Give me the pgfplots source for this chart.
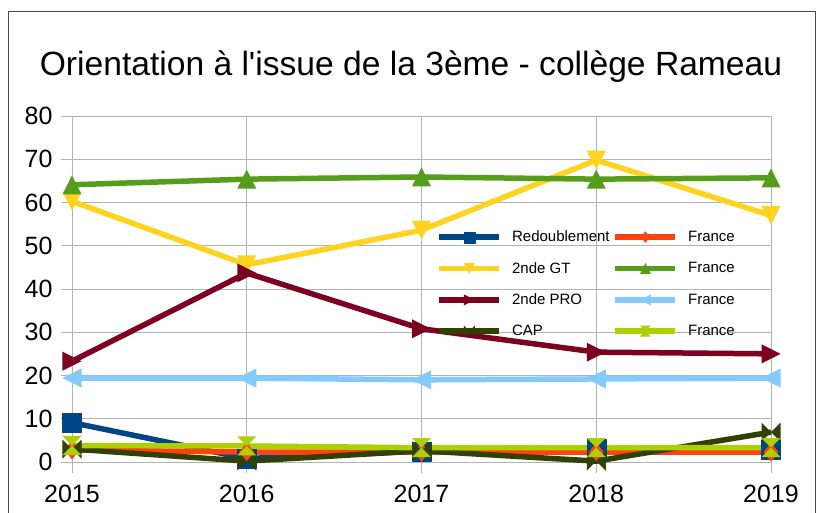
\documentclass[border=0pt]{standalone}
\usepackage{pgfplots}
\pgfplotsset{compat=1.18}
\usepackage{fontspec}
\setmainfont{Liberation Sans}
\newfontfamily\titlefont{Liberation Sans}
\definecolor{c1}{HTML}{004586}
\definecolor{c2}{HTML}{FF420E}
\definecolor{c3}{HTML}{FFD320}
\definecolor{c4}{HTML}{579D1C}
\definecolor{c5}{HTML}{7E0021}
\definecolor{c6}{HTML}{83CAFF}
\definecolor{c7}{HTML}{314004}
\definecolor{c8}{HTML}{AECF00}
\definecolor{gridc}{HTML}{B3B3B3}
\pgfdeclareplotmark{tup}{\pgfpathmoveto{\pgfqpoint{-\pgfplotmarksize}{-\pgfplotmarksize}}\pgfpathlineto{\pgfqpoint{\pgfplotmarksize}{-\pgfplotmarksize}}\pgfpathlineto{\pgfqpoint{0pt}{\pgfplotmarksize}}\pgfpathclose\pgfusepathqfill}
\pgfdeclareplotmark{tdown}{\pgfpathmoveto{\pgfqpoint{-\pgfplotmarksize}{\pgfplotmarksize}}\pgfpathlineto{\pgfqpoint{\pgfplotmarksize}{\pgfplotmarksize}}\pgfpathlineto{\pgfqpoint{0pt}{-\pgfplotmarksize}}\pgfpathclose\pgfusepathqfill}
\pgfdeclareplotmark{tright}{\pgfpathmoveto{\pgfqpoint{-\pgfplotmarksize}{-\pgfplotmarksize}}\pgfpathlineto{\pgfqpoint{-\pgfplotmarksize}{\pgfplotmarksize}}\pgfpathlineto{\pgfqpoint{\pgfplotmarksize}{0pt}}\pgfpathclose\pgfusepathqfill}
\pgfdeclareplotmark{tleft}{\pgfpathmoveto{\pgfqpoint{\pgfplotmarksize}{-\pgfplotmarksize}}\pgfpathlineto{\pgfqpoint{\pgfplotmarksize}{\pgfplotmarksize}}\pgfpathlineto{\pgfqpoint{-\pgfplotmarksize}{0pt}}\pgfpathclose\pgfusepathqfill}
\pgfdeclareplotmark{bowtie}{\pgfpathmoveto{\pgfqpoint{-\pgfplotmarksize}{\pgfplotmarksize}}\pgfpathlineto{\pgfqpoint{-\pgfplotmarksize}{-\pgfplotmarksize}}\pgfpathlineto{\pgfqpoint{\pgfplotmarksize}{\pgfplotmarksize}}\pgfpathlineto{\pgfqpoint{\pgfplotmarksize}{-\pgfplotmarksize}}\pgfpathclose\pgfusepathqfill}
\pgfdeclareplotmark{hourglass}{\pgfpathmoveto{\pgfqpoint{-\pgfplotmarksize}{\pgfplotmarksize}}\pgfpathlineto{\pgfqpoint{\pgfplotmarksize}{\pgfplotmarksize}}\pgfpathlineto{\pgfqpoint{-\pgfplotmarksize}{-\pgfplotmarksize}}\pgfpathlineto{\pgfqpoint{\pgfplotmarksize}{-\pgfplotmarksize}}\pgfpathclose\pgfusepathqfill}
\begin{document}
\begin{tikzpicture}
\useasboundingbox (0pt,0pt) rectangle (822pt,513pt);
\draw[line width=1pt, black!70] (8pt,-2pt) -- (8pt,501pt) -- (815pt,501pt) -- (815pt,-2pt);
\node[font=\titlefont\fontsize{33.6}{38}\selectfont, anchor=base] at (411pt,437pt) {Orientation à l'issue de la 3ème - collège Rameau};
\begin{axis}[
  at={(72pt,51pt)}, anchor=south west,
  scale only axis, width=699pt, height=346pt,
  xmin=2015, xmax=2019, ymin=0, ymax=80,
  xtick={2015,2016,2017,2018,2019},
  ytick={0,10,...,80},
  xticklabel style={/pgf/number format/1000 sep={}, yshift=-9pt},
  yticklabel style={xshift=-5pt},
  /pgf/number format/assume math mode=true,
  ticklabel style={font=\fontsize{25}{30}\selectfont},
  xtick pos=left, ytick pos=left,
  tick align=outside, major tick length=11pt,
  tick style={gridc, line width=0.8pt},
  axis line style={gridc, line width=0.8pt},
  grid=major, major grid style={gridc, line width=0.8pt},
  clip=false,
  every axis plot/.append style={line width=5.5pt, line join=round, mark size=9.5pt, mark options={line width=0.2pt}},
  legend columns=2,
  legend style={at={(0.517,0.68)}, anchor=north west, draw=none, fill=none,
    font=\fontsize{15}{18}\selectfont, row sep=15pt,
    /tikz/every even column/.append style={column sep=1pt}},
  legend cell align=left,
  legend image code/.code={\draw[#1, mark size=5.5pt, mark repeat=2, mark phase=2] plot coordinates {(0pt,0pt) (30pt,0pt) (60pt,0pt)};\path (68pt,0pt);},
]
\addplot[c1, mark=square*] coordinates {(2015,9.1) (2016,0.8) (2017,2.5) (2018,3.0) (2019,2.8)};
\addlegendentry{Redoublement}
\addplot[c2, mark=diamond*] coordinates {(2015,2.8) (2016,2.3) (2017,2.3) (2018,2.3) (2019,2.3)};
\addlegendentry{France}
\addplot[c3, mark=tdown] coordinates {(2015,60.3) (2016,45.6) (2017,53.6) (2018,69.8) (2019,57.0)};
\addlegendentry{2nde GT}
\addplot[c4, mark=tup] coordinates {(2015,64.1) (2016,65.4) (2017,65.9) (2018,65.4) (2019,65.7)};
\addlegendentry{France}
\addplot[c5, mark=tright] coordinates {(2015,23.3) (2016,43.7) (2017,30.8) (2018,25.4) (2019,25.0)};
\addlegendentry{2nde PRO}
\addplot[c6, mark=tleft] coordinates {(2015,19.4) (2016,19.4) (2017,19.0) (2018,19.2) (2019,19.4)};
\addlegendentry{France}
\addplot[c7, mark=bowtie] coordinates {(2015,3.0) (2016,0.2) (2017,2.6) (2018,0.2) (2019,6.9)};
\addlegendentry{CAP}
\addplot[c8, mark=hourglass] coordinates {(2015,3.8) (2016,3.7) (2017,3.3) (2018,3.3) (2019,3.3)};
\addlegendentry{France}
\end{axis}
\end{tikzpicture}
\end{document}
